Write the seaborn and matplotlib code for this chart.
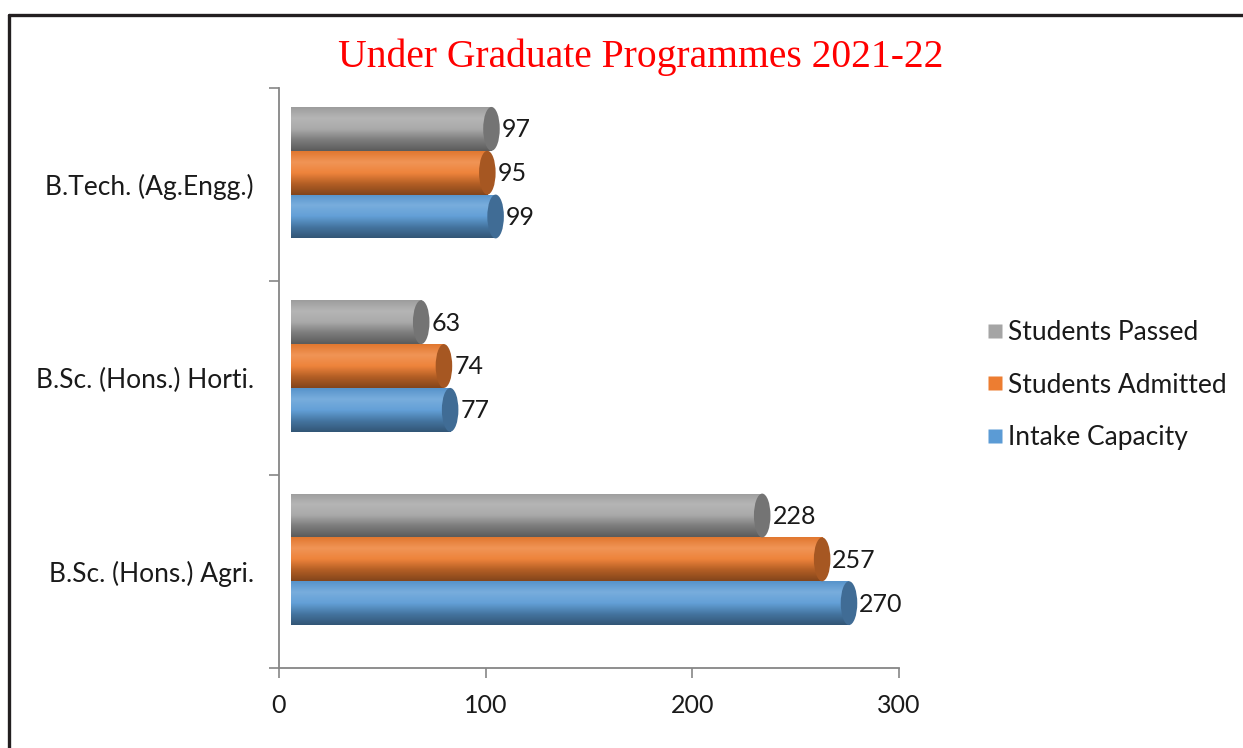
import numpy as np
import pandas as pd
import matplotlib
matplotlib.use("Agg")
import matplotlib.pyplot as plt
import matplotlib.transforms as mtransforms
from matplotlib.colors import LinearSegmentedColormap, to_rgb
from matplotlib.patches import Ellipse
from matplotlib.lines import Line2D
import seaborn as sns

# ---------------- data ----------------
programmes = ["B.Tech. (Ag.Engg.)", "B.Sc. (Hons.) Horti.", "B.Sc. (Hons.) Agri."]
series = ["Students Passed", "Students Admitted", "Intake Capacity"]
students_passed = [97, 63, 228]
students_admitted = [95, 74, 257]
intake_capacity = [99, 77, 270]
x_ticks = [0, 100, 200, 300]
title = "Under Graduate Programmes 2021-22"

colors = {"Students Passed": "#A5A5A5",
          "Students Admitted": "#ED7D31",
          "Intake Capacity": "#5B9BD5"}

rows = []
for s, vals in zip(series, [students_passed, students_admitted, intake_capacity]):
    for p, v in zip(programmes, vals):
        rows.append({"Programme": p, "Series": s, "Value": v})
df = pd.DataFrame(rows)

# ---------------- figure ----------------
sns.set_style("white")
plt.rcParams["font.family"] = ["Lato", "DejaVu Sans"]

W, H, DPI = 1243, 748, 100
fig = plt.figure(figsize=(W / DPI, H / DPI), dpi=DPI)
ax = fig.add_axes([279 / W, 1 - 668 / H, (899 - 279) / W, (668 - 88) / H])

sns.barplot(data=df, y="Programme", x="Value", hue="Series",
            order=programmes, hue_order=series, palette=colors,
            width=0.68, saturation=1, legend=False, ax=ax, orient="h")

# 3D-like depth offset (style only)
shift = mtransforms.ScaledTranslation(12 / DPI, 12 / DPI, fig.dpi_scale_trans)
trans = ax.transData + shift


def shade(c, f):
    r = np.array(to_rgb(c))
    if f >= 0:
        return tuple(r + (1 - r) * f)
    return tuple(r * (1 + f))


cap_w = 8.0  # data units for end-cap ellipse width
for cont, s in zip(ax.containers, series):
    base = colors[s]
    cmap = LinearSegmentedColormap.from_list(
        s, [shade(base, -0.05), shade(base, 0.18), shade(base, 0.05),
            shade(base, -0.25), shade(base, -0.45)],
        N=256)
    for bar in cont:
        bar.set_transform(trans)
        x0, y0 = bar.get_x(), bar.get_y()
        w, h = bar.get_width(), bar.get_height()
        grad = np.linspace(0, 1, 256).reshape(-1, 1)
        im = ax.imshow(grad, cmap=cmap, aspect="auto",
                       extent=(x0, x0 + w, y0 + h, y0),
                       transform=trans, zorder=2, interpolation="bicubic")
        im.set_clip_path(bar)
        ell = Ellipse((x0 + w, y0 + h / 2), cap_w, h, transform=trans,
                      facecolor=shade(base, -0.3), edgecolor="none", zorder=3)
        ax.add_patch(ell)

# data labels
for cont, vals in zip(ax.containers, [students_passed, students_admitted, intake_capacity]):
    for bar, v in zip(cont, vals):
        yc = bar.get_y() + bar.get_height() / 2
        ax.annotate(f"{v}", xy=(bar.get_x() + bar.get_width(), yc),
                    xytext=(16, 8), textcoords="offset points",
                    ha="left", va="center", fontsize=18, color="#1a1a1a",
                    zorder=5)

ax.set_xlim(0, 300)
ax.set_ylim(2.5, -0.5)
ax.set_xticks(x_ticks)
ax.set_xticklabels([str(t) for t in x_ticks], fontsize=18, color="#1a1a1a")
ax.set_yticks(range(len(programmes)))
ax.set_yticklabels(programmes, fontsize=19, color="#1a1a1a")
ax.set_yticks([-0.5, 0.5, 1.5, 2.5], minor=True)
ax.tick_params(axis="y", which="major", left=False, length=0, pad=18)
ax.tick_params(axis="y", which="minor", left=True, length=7, width=1.2,
               color="#868686", direction="out")
ax.tick_params(axis="x", which="major", bottom=True, length=7, width=1.2,
               color="#868686", direction="out", pad=12)
ax.set_xlabel("")
ax.set_ylabel("")
for sp in ["top", "right"]:
    ax.spines[sp].set_visible(False)
for sp in ["left", "bottom"]:
    ax.spines[sp].set_color("#868686")
    ax.spines[sp].set_linewidth(1.3)

# legend
handles = [Line2D([], [], marker="s", linestyle="none", markersize=10,
                  markerfacecolor=colors[s], markeredgecolor="none") for s in series]
fig.legend(handles, series, loc="upper left", bbox_to_anchor=(986 / W, 1 - 320 / H),
           frameon=False, fontsize=19, labelspacing=1.05, handletextpad=0.15,
           handlelength=0.7, borderaxespad=0, borderpad=0,
           labelcolor="#1a1a1a")

# title
fig.text(641 / W, 1 - 57 / H, title, ha="center", va="center",
         fontsize=28.5, color="#FF0000", family=["Liberation Serif", "DejaVu Serif"])

# outer frame (top and left edges visible)
fig.add_artist(Line2D([9 / W, 1.0], [1 - 15 / H, 1 - 15 / H], transform=fig.transFigure,
                      color="#231F20", linewidth=2.4))
fig.add_artist(Line2D([9 / W, 9 / W], [0.0, 1 - 15 / H], transform=fig.transFigure,
                      color="#231F20", linewidth=2.4))

fig.savefig("out.png", dpi=DPI)
